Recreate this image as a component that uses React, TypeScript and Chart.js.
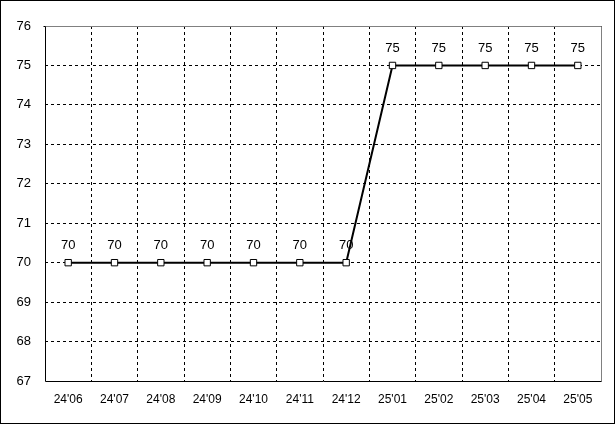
import React, { useEffect, useRef } from "react";
import { Chart, registerables } from "chart.js";

Chart.register(...registerables);

const categories = ["24'06", "24'07", "24'08", "24'09", "24'10", "24'11", "24'12", "25'01", "25'02", "25'03", "25'04", "25'05"];
const values = [70, 70, 70, 70, 70, 70, 70, 75, 75, 75, 75, 75];
const yMin = 67;
const yMax = 76;

const FONT = "'Liberation Sans', Arial, sans-serif";

const framePlugin = {
  id: "frame",
  beforeDraw(chart: any) {
    const { ctx, width, height } = chart;
    ctx.save();
    ctx.fillStyle = "#fff";
    ctx.fillRect(0, 0, width, height);
    ctx.restore();
  },
  beforeDatasetsDraw(chart: any) {
    const { ctx, chartArea } = chart;
    const l = Math.round(chartArea.left) + 0.5;
    const r = Math.round(chartArea.right) + 0.5;
    const t = Math.round(chartArea.top) + 0.5;
    const b = Math.round(chartArea.bottom) + 0.5;
    ctx.save();
    ctx.lineWidth = 1;
    ctx.setLineDash([]);
    ctx.strokeStyle = "#808080";
    ctx.beginPath();
    ctx.moveTo(l, t);
    ctx.lineTo(r, t);
    ctx.lineTo(r, b);
    ctx.stroke();
    ctx.strokeStyle = "#000";
    ctx.beginPath();
    ctx.moveTo(l - 2, t);
    ctx.lineTo(l, t);
    ctx.lineTo(l, b);
    ctx.lineTo(r, b);
    ctx.stroke();
    ctx.restore();
  },
  afterDraw(chart: any) {
    const { ctx, width, height } = chart;
    ctx.save();
    ctx.strokeStyle = "#000";
    ctx.lineWidth = 1;
    ctx.strokeRect(0.5, 0.5, width - 1, height - 1);
    ctx.restore();
  },
};

const labelPlugin = {
  id: "valueLabels",
  afterDatasetsDraw(chart: any) {
    const { ctx } = chart;
    const meta = chart.getDatasetMeta(0);
    ctx.save();
    ctx.fillStyle = "#000";
    ctx.font = `13px ${FONT}`;
    ctx.textAlign = "center";
    ctx.textBaseline = "middle";
    meta.data.forEach((pt: any, i: number) => {
      ctx.fillText(String(values[i]), pt.x, pt.y - 17);
    });
    ctx.restore();
  },
};

export default function App() {
  const ref = useRef<HTMLCanvasElement | null>(null);

  useEffect(() => {
    if (!ref.current) return;
    const chart = new Chart(ref.current, {
      type: "line",
      data: {
        labels: categories,
        datasets: [
          {
            data: values,
            borderColor: "#000",
            borderWidth: 2,
            tension: 0,
            pointStyle: "rect",
            pointRadius: 4.5,
            pointBorderWidth: 1,
            pointBorderColor: "#000",
            pointBackgroundColor: "#fff",
          },
        ],
      },
      options: {
        responsive: false,
        animation: false,
        devicePixelRatio: 1,
        layout: { padding: { top: 26, right: 14, left: 0, bottom: 0 } },
        plugins: {
          legend: { display: false },
          tooltip: { enabled: false },
        },
        scales: {
          x: {
            offset: true,
            afterFit: (s: any) => {
              s.height = 43;
            },
            grid: {
              offset: true,
              color: (c: any) =>
                c.index === 0 || c.index >= categories.length ? "rgba(0,0,0,0)" : "#000",
              lineWidth: 1,
              drawTicks: false,
            },
            border: { display: false, dash: [3, 3] },
            ticks: {
              color: "#000",
              font: { family: FONT, size: 12 },
              padding: 11,
              maxRotation: 0,
              autoSkip: false,
            },
          },
          y: {
            min: yMin,
            max: yMax,
            afterFit: (s: any) => {
              s.width = 45;
            },
            grid: {
              color: (c: any) =>
                c.tick && (c.tick.value === yMax || c.tick.value === yMin) ? "rgba(0,0,0,0)" : "#000",
              lineWidth: 1,
              drawTicks: false,
            },
            border: { display: false, dash: [3, 3] },
            ticks: {
              stepSize: 1,
              color: "#000",
              font: { family: FONT, size: 13 },
              padding: 14,
            },
          },
        },
      },
      plugins: [framePlugin, labelPlugin],
    });
    return () => chart.destroy();
  }, []);

  return (
    <div style={{ position: "absolute", left: 0, top: 0, width: 615, height: 424 }}>
      <canvas ref={ref} width={615} height={424} style={{ width: 615, height: 424, display: "block" }} />
    </div>
  );
}
